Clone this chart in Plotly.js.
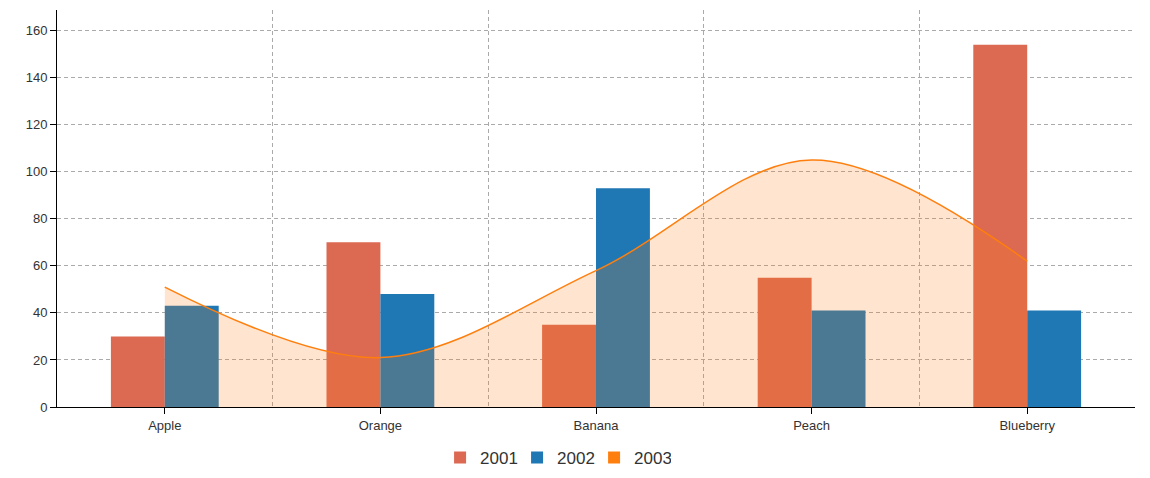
<!DOCTYPE html>
<html>
<head>
<meta charset="utf-8">
<script src="https://cdn.plot.ly/plotly-3.0.1.min.js"></script>
<style>
html,body{margin:0;padding:0;background:#fff;}
#chart{width:1150px;height:478px;}
.legend .traces{opacity:1 !important;}
</style>
</head>
<body>
<div id="chart"></div>
<script>
const categories = ["Apple", "Orange", "Banana", "Peach", "Blueberry"];
const values2001 = [30, 70, 35, 55, 154];
const values2002 = [43, 48, 93, 41, 41];
const values2003 = [51, 21, 58, 105, 62];
const seriesNames = ["2001", "2002", "2003"];
const yTicks = [0, 20, 40, 60, 80, 100, 120, 140, 160];

const c2001 = "#dc6952", c2002 = "#1f77b4", c2003 = "#ff7f0e";
const xPos = categories.map((_, i) => i);

const traces = [
  {type: "bar", name: seriesNames[0], x: xPos, y: values2001, text: categories,
   marker: {color: c2001}, hovertemplate: "%{text}: %{y}<extra>2001</extra>", textposition: "none"},
  {type: "bar", name: seriesNames[1], x: xPos, y: values2002, text: categories,
   marker: {color: c2002}, hovertemplate: "%{text}: %{y}<extra>2002</extra>", textposition: "none"},
  {type: "scatter", mode: "lines", name: seriesNames[2], x: xPos, y: values2003,
   line: {color: c2003, width: 1.5, shape: "spline", smoothing: 1},
   fill: "tozeroy", fillcolor: "rgba(255,127,14,0.2)", showlegend: false},
  {type: "bar", name: seriesNames[2], x: xPos, y: values2003,
   marker: {color: c2003}, visible: "legendonly"}
];

const tickFont = {family: "Arial, 'Liberation Sans', sans-serif", size: 13, color: "#333"};

const layout = {
  width: 1150, height: 478,
  margin: {l: 57, r: 15, t: 10, b: 71, autoexpand: false},
  paper_bgcolor: "#fff", plot_bgcolor: "#fff",
  barmode: "group", bargap: 0.5, bargroupgap: 0,
  showlegend: true,
  legend: {orientation: "h", x: 0.4625, xanchor: "center", y: -0.083, yanchor: "top",
           entrywidth: 32, entrywidthmode: "pixels",
           font: {family: "Arial, 'Liberation Sans', sans-serif", size: 17, color: "#333"},
           itemclick: false, itemdoubleclick: false, traceorder: "normal"},
  xaxis: {range: [-0.5, 4.5], tickmode: "array", tickvals: xPos, ticktext: categories,
          showgrid: false, zeroline: false,
          showline: true, linecolor: "#000", linewidth: 1,
          ticks: "outside", ticklen: 6, tickcolor: "#000", tickwidth: 1,
          tickfont: tickFont, fixedrange: true,
          minor: {tickmode: "linear", tick0: 0.5, dtick: 1, ticks: "",
                  showgrid: true, gridcolor: "#aaa", gridwidth: 1, griddash: "4px,3px"}},
  yaxis: {range: [0, 168.8], tickmode: "array", tickvals: yTicks,
          showgrid: true, gridcolor: "#aaa", gridwidth: 1, griddash: "4px,3px",
          zeroline: false, showline: true, linecolor: "#000", linewidth: 1,
          ticks: "outside", ticklen: 6, tickcolor: "#000", tickwidth: 1,
          tickfont: tickFont, fixedrange: true}
};

Plotly.newPlot("chart", traces, layout, {displayModeBar: false});
</script>
</body>
</html>
